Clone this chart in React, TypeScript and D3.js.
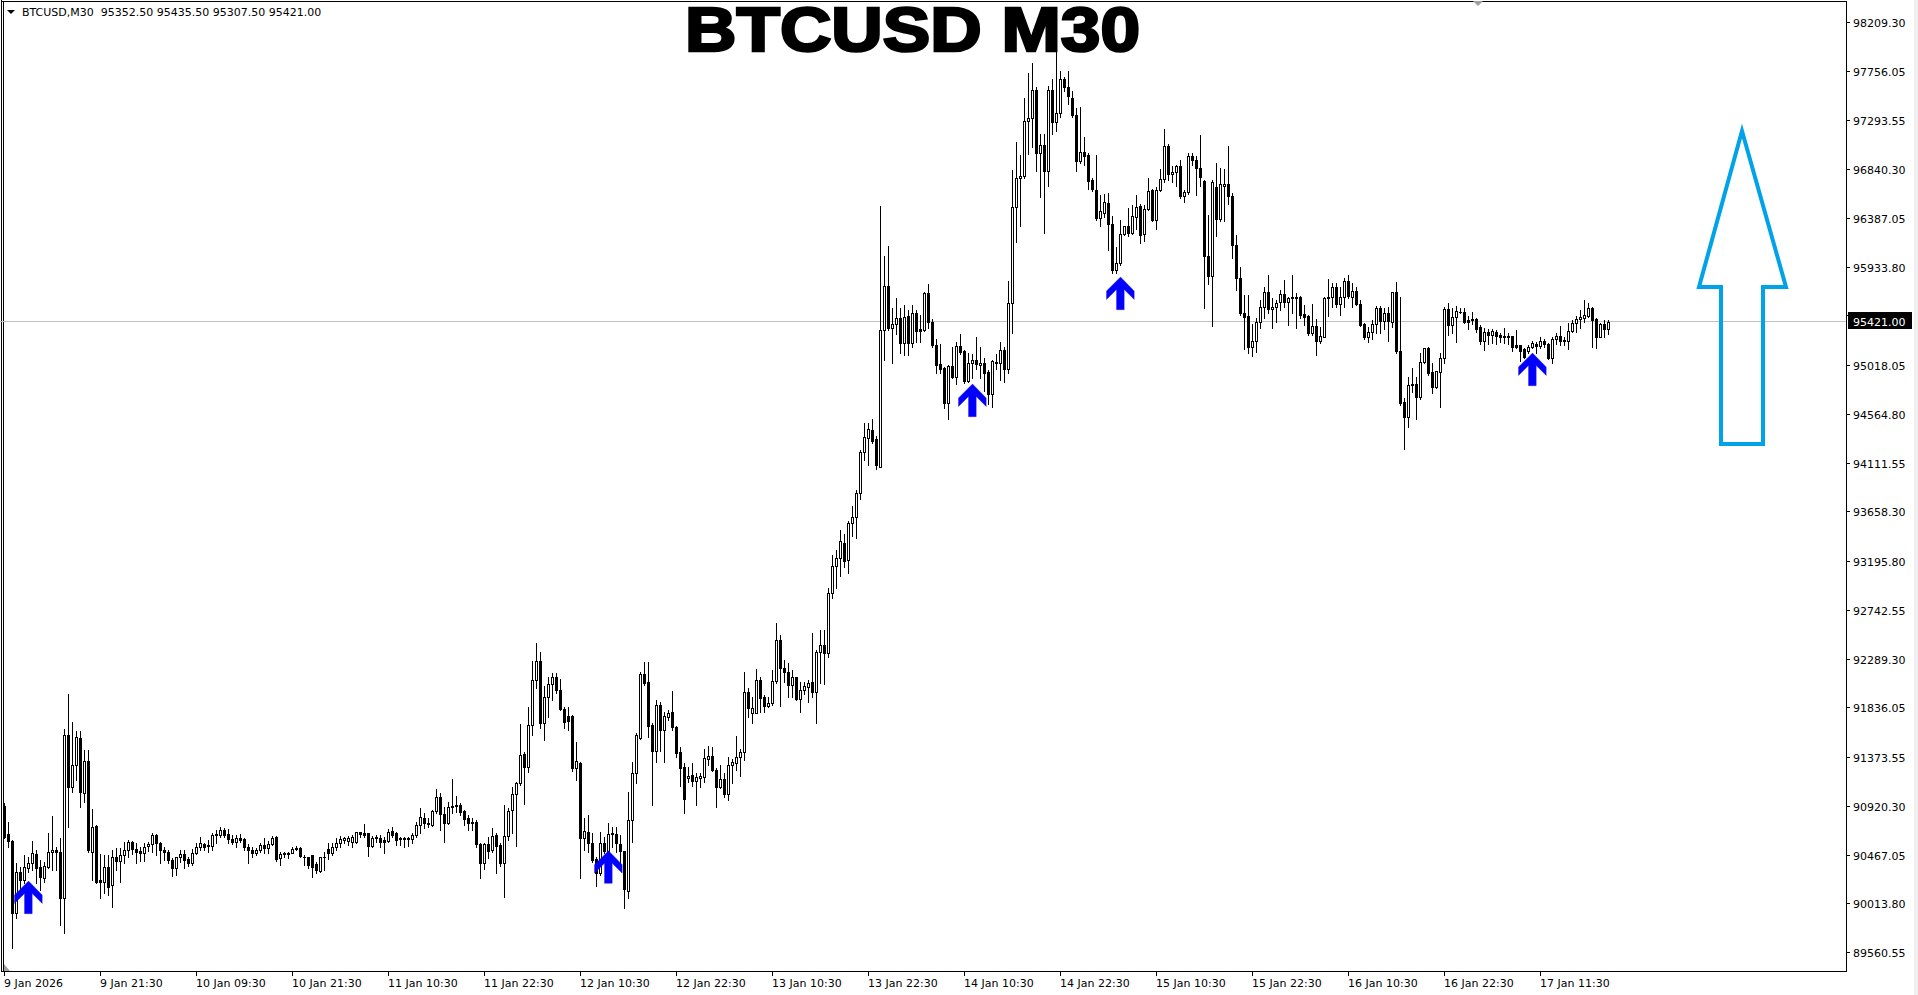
import React from 'react';
import * as d3 from 'd3';

// ---- Data (M30 candles) ----
const opens = [
90918,90658,90590,89920,90301,90230,90345,90385,90469,90348,
90245,90354,90493,90506,90493,90060,91578,91098,91300,91548,
91043,91340,90493,90732,90230,90208,90348,90184,90441,90410,
90460,90506,90580,90515,90500,90478,90546,90565,90649,90571,
90509,90493,90416,90338,90441,90472,90422,90385,90484,90534,
90565,90546,90546,90649,90649,90695,90658,90608,90587,90618,
90608,90540,90509,90484,90509,90555,90524,90565,90633,90431,
90469,90484,90484,90515,90524,90447,90447,90463,90376,90317,
90441,90515,90484,90534,90577,90602,90596,90587,90587,90673,
90664,90664,90549,90618,90624,90602,90596,90686,90664,90624,
90608,90614,90608,90649,90741,90804,90763,90741,90875,90999,
90841,90757,90906,90915,90928,90875,90804,90769,90769,90562,
90385,90562,90509,90645,90556,90391,90639,90881,91027,91129,
91405,91284,91668,92090,92267,91693,91929,92050,92115,91997,
91823,91755,91755,91275,91321,90624,90680,90577,90422,90298,
90571,90503,90655,90655,90565,90503,90128,90788,91222,91548,
92146,92068,91672,91433,91854,91625,91743,91789,91656,91417,
91284,91175,91206,91154,91175,91191,91352,91383,91253,91092,
91166,91027,91300,91315,91371,91417,91975,91786,91786,92090,
91935,91848,91879,92081,92462,92199,92168,92044,92121,91910,
91997,92022,92075,91981,92354,92416,92344,92900,93150,93223,
93364,93203,93547,93607,93829,94213,94343,94416,94335,94072,
95345,95750,95366,95398,95459,95224,95475,95224,95507,95353,
95345,95689,95418,95204,95030,94994,94670,95014,94909,95196,
95151,94868,95042,95070,95022,95042,94953,94747,95042,95042,
95163,94982,95596,96490,96760,96781,97286,97318,97581,96991,
97064,96821,97577,97278,97367,97682,97609,97500,97347,96914,
97003,96971,96740,96651,96384,96437,96530,96328,95899,95972,
96235,96308,96243,96397,96498,96235,96469,96647,96368,96647,
96752,97052,96793,96813,96874,96587,96631,96963,96930,96849,
96728,96033,95851,96672,96376,96688,96700,96587,96136,95826,
95500,95475,95190,95243,95416,95562,95695,95537,95556,95608,
95677,95609,95640,95649,95649,95491,95475,95320,95382,95246,
95283,95640,95655,95742,95587,95649,95801,95655,95708,95587,
95401,95283,95323,95398,95547,95432,95500,95416,95695,95153,
94678,94539,94834,94843,94719,95044,95174,94957,94812,94957,
95081,95540,95391,95463,95512,95516,95438,95444,95447,95370,
95246,95323,95299,95329,95299,95292,95292,95289,95205,95205,
95165,95153,95184,95212,95199,95246,95212,95081,95258,95292,
95246,95246,95339,95413,95447,95453,95475,95547,95447,95283,
95398,95352.5,
];

const highs = [
90943,90773,90602,90385,90354,90463,90447,90593,90509,90416,
90400,90664,90828,90540,90618,91631,91960,91696,91616,91616,
91439,91439,90887,90740,90472,90463,90463,90509,90524,90524,
90587,90602,90596,90571,90540,90571,90587,90664,90658,90583,
90540,90509,90431,90447,90509,90509,90441,90518,90571,90627,
90577,90602,90664,90695,90720,90710,90701,90649,90649,90655,
90618,90565,90534,90524,90577,90618,90596,90639,90640,90493,
90493,90493,90534,90546,90540,90463,90447,90463,90400,90447,
90493,90571,90571,90618,90639,90633,90639,90649,90680,90680,
90751,90670,90639,90649,90649,90633,90701,90726,90680,90633,
90633,90633,90664,90773,90897,90850,90804,90881,91076,91036,
90912,90952,91169,91014,90943,90881,90834,90804,90788,90571,
90571,90633,90717,90664,90571,90928,90897,91098,91145,91678,
91424,91836,92267,92434,92350,92034,92115,92152,92152,92096,
91842,91842,91765,91510,91331,90804,90834,90664,90447,90680,
90633,90757,90726,90726,90649,90503,91045,91324,91600,92168,
92254,92261,91687,91904,91889,91796,91811,91988,91662,91470,
91315,91284,91321,91222,91222,91448,91476,91470,91269,91300,
91228,91377,91352,91569,91445,92168,92012,91935,92189,92121,
91950,91935,92183,92617,92509,92276,92245,92183,92121,92075,
92075,92090,92524,92369,92555,92555,92950,93250,93300,93486,
93445,93567,93708,93858,94233,94476,94476,94517,94355,96498,
96033,96122,95547,95641,95547,95580,95527,95580,95527,95487,
95701,95770,95446,95264,95216,95002,95022,95184,95236,95305,
95163,95135,95123,95277,95184,95083,94973,95062,95123,95232,
95184,95798,96833,97096,96971,97500,97731,97832,97609,97165,
97165,97618,97682,97973,97751,97698,97751,97569,97407,97415,
97144,96995,96760,96975,96599,96607,96619,96405,96114,96368,
96316,96477,96510,96599,96518,96510,96760,96659,96671,96841,
97213,97076,96874,96882,96930,96647,96995,96995,96963,97157,
96740,96417,96740,96902,96849,96841,97052,96616,96229,95934,
95671,95671,95401,95454,95624,95748,95857,95640,95624,95717,
95810,95655,95857,95686,95661,95578,95484,95587,95444,95376,
95655,95816,95785,95785,95742,95826,95857,95779,95748,95624,
95407,95376,95438,95568,95568,95547,95562,95701,95794,95649,
94710,94911,94989,94911,95128,95174,95184,95035,94964,95128,
95556,95599,95547,95568,95547,95547,95475,95509,95454,95391,
95361,95351,95354,95345,95314,95361,95314,95292,95345,95205,
95180,95205,95246,95230,95277,95258,95221,95277,95314,95382,
95283,95407,95438,95475,95531,95624,95593,95562,95454,95413,
95438,95435.5,
];

const lows = [
90618,90540,89595,89873,90137,90199,90308,90323,90199,90137,
90208,90338,90323,90323,89812,89734,90726,91052,91160,90906,
90958,90493,90230,90199,90060,90106,90087,89976,90323,90215,
90385,90447,90472,90385,90410,90410,90503,90493,90463,90385,
90416,90385,90270,90276,90400,90338,90363,90369,90472,90509,
90509,90493,90509,90577,90633,90633,90571,90565,90540,90580,
90509,90385,90447,90463,90493,90478,90484,90555,90410,90369,
90447,90431,90478,90509,90447,90369,90338,90261,90292,90308,
90323,90422,90463,90509,90540,90571,90555,90540,90577,90633,
90633,90453,90540,90587,90540,90478,90587,90633,90555,90555,
90540,90546,90577,90633,90664,90711,90726,90732,90850,90695,
90587,90751,90850,90866,90834,90741,90695,90695,90540,90252,
90329,90432,90493,90292,90360,90069,90602,90664,90549,91114,
90937,91237,91579,92012,91641,91532,91749,91904,91966,91811,
91647,91625,91247,91160,90252,90509,90494,90400,90177,90277,
90484,90478,90540,90494,90354,89967,90066,90580,91129,91538,
92044,91563,90928,91330,91433,91330,91718,91625,91377,91107,
90850,91145,91104,90928,91098,91145,91300,91247,90912,91083,
91005,90974,91135,91253,91200,91346,91749,91687,91780,91796,
91796,91836,91854,92065,91848,92075,91935,91935,91904,91796,
91960,91889,91935,91693,92059,92050,92300,92850,92950,93061,
93142,93081,93425,93412,93769,94132,94092,94294,94052,94072,
95062,95345,95042,95305,95135,95111,95111,95184,95232,95232,
95337,95366,95184,94941,94941,94618,94517,94901,94840,95123,
94852,94860,94901,94982,94901,94779,94658,94626,94982,94880,
94860,94949,95313,96162,96308,96760,96983,97043,96821,96578,
96247,96688,97165,97197,97326,97569,97448,97326,96821,96902,
96882,96659,96639,96364,96316,96397,96093,95879,95871,95952,
96227,96215,96235,96283,96154,96174,96457,96356,96283,96639,
96720,96740,96720,96680,96570,96538,96607,96882,96599,96680,
95547,95770,95386,96215,96356,96356,96518,96012,95717,95484,
95165,95134,95103,95144,95361,95454,95500,95361,95422,95531,
95562,95391,95500,95361,95454,95391,95299,95299,95112,95227,
95277,95475,95556,95562,95484,95562,95640,95562,95578,95382,
95258,95236,95258,95314,95320,95351,95246,95376,95128,94648,
94235,94440,94772,94514,94700,95035,94927,94762,94803,94626,
95041,95299,95314,95236,95500,95413,95351,95401,95329,95215,
95159,95215,95221,95215,95236,95227,95215,95153,95174,95060,
95080,95128,95174,95128,95174,95190,95072,95035,95212,95205,
95205,95165,95323,95323,95361,95422,95469,95190,95174,95277,
95277,95307.5,
];

const closes = [
90633,90596,89920,90301,90230,90348,90385,90478,90345,90255,
90360,90493,90509,90493,90060,91578,91092,91300,91557,91052,
91340,90509,90723,90215,90208,90348,90168,90441,90410,90463,
90506,90587,90515,90493,90478,90540,90565,90649,90571,90509,
90493,90416,90338,90441,90472,90416,90385,90484,90534,90571,
90540,90555,90649,90655,90695,90649,90608,90587,90618,90602,
90540,90509,90484,90509,90555,90524,90565,90624,90425,90472,
90478,90472,90518,90524,90456,90441,90369,90354,90323,90441,
90447,90484,90534,90577,90608,90618,90618,90627,90673,90658,
90649,90549,90624,90633,90587,90587,90673,90649,90602,90608,
90624,90624,90649,90741,90819,90757,90751,90875,90999,90841,
90757,90906,90918,90928,90866,90797,90763,90757,90562,90391,
90562,90503,90639,90546,90391,90639,90875,91027,91135,91389,
91284,91668,92090,92267,91693,91929,92050,92115,91997,91817,
91702,91712,91275,91337,90624,90686,90571,90416,90298,90571,
90503,90655,90664,90571,90503,90149,90788,91222,91579,92146,
92059,91662,91433,91854,91625,91755,91780,91656,91408,91275,
90986,91200,91154,91185,91197,91362,91383,91253,91092,91166,
91027,91300,91331,91371,91417,91975,91827,91827,92090,91926,
91848,91879,92081,92462,92199,92161,92044,92115,91910,91997,
92034,92059,91981,92354,92416,92344,92900,93150,93223,93384,
93194,93547,93607,93829,94213,94347,94424,94314,94092,95345,
95750,95366,95398,95459,95224,95467,95224,95507,95337,95337,
95689,95418,95204,95022,94982,94670,95014,94909,95196,95143,
94868,95042,95070,95030,95042,94941,94747,95054,95050,95163,
94982,95596,96490,96760,96781,97286,97318,97581,96991,97064,
96821,97577,97278,97367,97682,97601,97520,97347,96914,97003,
96963,96732,96655,96384,96449,96538,96328,95899,95972,96235,
96308,96243,96405,96490,96227,96469,96639,96368,96647,96752,
97052,96793,96813,96874,96587,96631,96963,96922,96849,96772,
96033,95851,96720,96376,96700,96700,96587,96136,95826,95500,
95469,95190,95243,95416,95562,95695,95537,95556,95593,95677,
95609,95640,95649,95643,95484,95469,95320,95382,95246,95289,
95640,95655,95742,95587,95649,95801,95664,95708,95587,95391,
95283,95323,95398,95547,95432,95500,95429,95695,95153,94669,
94539,94834,94843,94725,95044,95174,94948,94812,94964,95081,
95540,95391,95463,95522,95516,95422,95422,95438,95354,95246,
95323,95299,95336,95292,95283,95283,95283,95190,95190,95153,
95097,95184,95221,95199,95246,95212,95081,95258,95292,95246,
95252,95339,95413,95447,95463,95484,95547,95438,95283,95398,
95351,95421,
];

const priceTicks = [
  98209.30, 97756.05, 97293.55, 96840.30, 96387.05, 95933.80, 95480.55,
  95018.05, 94564.80, 94111.55, 93658.30, 93195.80, 92742.55, 92289.30,
  91836.05, 91373.55, 90920.30, 90467.05, 90013.80, 89560.55,
];

const timeLabels = [
  '9 Jan 2026', '9 Jan 21:30', '10 Jan 09:30', '10 Jan 21:30', '11 Jan 10:30',
  '11 Jan 22:30', '12 Jan 10:30', '12 Jan 22:30', '13 Jan 10:30', '13 Jan 22:30',
  '14 Jan 10:30', '14 Jan 22:30', '15 Jan 10:30', '15 Jan 22:30', '16 Jan 10:30',
  '16 Jan 22:30', '17 Jan 11:30',
];
const timeLabelBars = [0, 24, 48, 72, 96, 120, 144, 168, 192, 216, 240, 264, 288, 312, 336, 360, 384];

const arrowBars = [6, 151, 242, 279, 382];
const arrowPrices = [90221, 90503, 94843, 95838, 95131];

// Big hollow annotation arrow (bar index / price anchors)
const bigArrowTip = { bar: 434.5, price: 97196 };
const bigArrowHeadPrice = 95745;
const bigArrowBottomPrice = 94285;
const bigArrowHeadBars = [423.75, 445.5];
const bigArrowShaftBars = [429.25, 439.75];

const lastPrice = 95421.0;
const symbolInfo = 'BTCUSD,M30  95352.50 95435.50 95307.50 95421.00';
const titleText = 'BTCUSD M30';

const FONT = '"DejaVu Sans", Verdana, sans-serif';

export default function App() {
  const W = 1918;
  const H = 995;
  const axisX = 1846;
  const axisY = 971;
  const N = closes.length;

  const x = d3.scaleLinear().domain([0, N - 1]).range([4, 4 + 4 * (N - 1)]);
  const y = d3.scaleLinear().domain([89560.55, 98209.3]).range([952, 22]);
  const py = (p: number) => Math.round(y(p));

  const candles = d3.range(N).map((i) => {
    const c = Math.round(x(i));
    const yo = py(opens[i]);
    const yc = py(closes[i]);
    const yh = py(highs[i]);
    const yl = py(lows[i]);
    const top = Math.min(yo, yc);
    const bot = Math.max(yo, yc);
    const bull = closes[i] >= opens[i];
    const h = bot - top + 1;
    return (
      <g key={i}>
        <rect x={c} y={yh} width={1} height={Math.max(1, yl - yh + 1)} fill="#000" />
        <rect x={c - 1} y={top} width={3} height={h} fill="#000" />
        {bull && h > 2 ? <rect x={c} y={top + 1} width={1} height={h - 2} fill="#fff" /> : null}
      </g>
    );
  });

  const lineY = Math.floor(y(lastPrice)) + 0.5;

  const arrowShape = [
    [0, 0], [-14, 14], [-14, 22.5], [-4, 12.5], [-4, 32.7], [3.7, 32.7], [3.7, 12.5], [13.7, 22.5], [13.7, 14],
  ];

  const bx = (b: number) => x(b);
  const bigArrowPts = [
    [bx(bigArrowTip.bar), y(bigArrowTip.price)],
    [bx(bigArrowHeadBars[1]), y(bigArrowHeadPrice)],
    [bx(bigArrowShaftBars[1]), y(bigArrowHeadPrice)],
    [bx(bigArrowShaftBars[1]), y(bigArrowBottomPrice)],
    [bx(bigArrowShaftBars[0]), y(bigArrowBottomPrice)],
    [bx(bigArrowShaftBars[0]), y(bigArrowHeadPrice)],
    [bx(bigArrowHeadBars[0]), y(bigArrowHeadPrice)],
  ];

  return (
    <svg
      width={W}
      height={H}
      viewBox={`0 0 ${W} ${H}`}
      style={{ position: 'absolute', left: 0, top: 0, background: '#fff' }}
      fontFamily={FONT}
    >
      <rect x={0} y={0} width={W} height={H} fill="#fff" />
      {/* right window edge */}
      <rect x={1914} y={0} width={4} height={H} fill="#f0f0f0" />

      {/* frame */}
      <g shapeRendering="crispEdges" stroke="#000" strokeWidth={1}>
        <line x1={1.5} y1={0} x2={1.5} y2={axisY + 1} />
        <line x1={3.5} y1={1} x2={3.5} y2={axisY} />
        <line x1={1} y1={1.5} x2={axisX + 1} y2={1.5} />
        <line x1={axisX + 0.5} y1={1} x2={axisX + 0.5} y2={axisY + 1} />
        <line x1={1} y1={axisY + 0.5} x2={axisX + 1} y2={axisY + 0.5} />
      </g>

      {/* markers */}
      <polygon points="1473,1 1483,1 1478,6" fill="#a0a0a0" />
      <polygon points="4,964 4,971 10,971" fill="#a0a0a0" />

      {/* bid line */}
      <line x1={0} x2={axisX} y1={lineY} y2={lineY} stroke="#c0c0c0" strokeWidth={1} shapeRendering="crispEdges" />

      {/* candles */}
      <g shapeRendering="crispEdges">{candles}</g>

      {/* signal arrows */}
      {arrowBars.map((b, k) => {
        const cx = Math.round(x(b)) + 0.5;
        const ty = y(arrowPrices[k]);
        return (
          <polygon
            key={k}
            points={arrowShape.map(([dx, dy]) => `${cx + dx},${ty + dy}`).join(' ')}
            fill="#0000ff"
            stroke="#3a1ad8"
            strokeWidth={0.4}
          />
        );
      })}

      {/* big annotation arrow */}
      <polygon
        points={bigArrowPts.map((p) => p.join(',')).join(' ')}
        fill="none"
        stroke="#00a2e8"
        strokeWidth={4}
        strokeLinejoin="miter"
      />

      {/* price axis */}
      <g fontSize={11} fill="#000">
        {priceTicks.map((v) => {
          const ty = py(v);
          return (
            <g key={v}>
              <line x1={axisX} x2={axisX + 4} y1={ty + 0.5} y2={ty + 0.5} stroke="#000" shapeRendering="crispEdges" />
              <text x={1853} y={ty + 4.5}>{v.toFixed(2)}</text>
            </g>
          );
        })}
      </g>
      <rect x={1848} y={lineY - 9.5} width={64} height={17} fill="#000" />
      <text x={1853} y={lineY + 4.5} fontSize={11} fill="#fff">{lastPrice.toFixed(2)}</text>

      {/* time axis */}
      <g fontSize={11} fill="#000">
        {timeLabelBars.map((b, k) => {
          const tx = Math.round(x(b));
          return (
            <g key={k}>
              <line x1={tx + 0.5} x2={tx + 0.5} y1={axisY} y2={axisY + 5} stroke="#000" shapeRendering="crispEdges" />
              <text x={tx} y={987}>{timeLabels[k]}</text>
            </g>
          );
        })}
      </g>

      {/* header */}
      <polygon points="7,10 15,10 11,14" fill="#000" />
      <text x={22} y={16} fontSize={11} fill="#000" style={{ whiteSpace: 'pre' }}>{symbolInfo}</text>

      {/* title */}
      <text
        x={685}
        y={51}
        fontFamily='"Liberation Sans", Arial, sans-serif'
        fontWeight={900}
        fontSize={63.5}
        fill="#000"
        stroke="#000"
        strokeWidth={2.6}
        textLength={455}
        lengthAdjust="spacingAndGlyphs"
      >
        {titleText}
      </text>
    </svg>
  );
}
